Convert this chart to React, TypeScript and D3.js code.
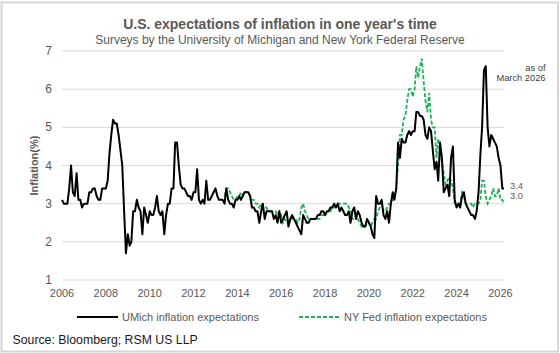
import React, { useEffect, useRef } from "react";
import * as d3 from "d3";

// monthly readings, UMich from Jan 2006, NY Fed from Jun 2013, both to Mar 2026
const umichStart = new Date(2006, 0, 1);
const umichValues: number[] = [
  // 2006
  3.1, 3.0, 3.0, 3.0, 3.4, 4.0, 3.3, 3.2, 3.8, 3.1, 3.1, 2.9,
  // 2007
  3.0, 3.0, 3.0, 3.3, 3.3, 3.4, 3.4, 3.2, 3.1, 3.1, 3.4, 3.4,
  // 2008
  3.4, 3.6, 4.3, 4.8, 5.2, 5.1, 5.1, 4.8, 4.4, 4.0, 2.8, 1.7,
  // 2009
  2.2, 1.9, 2.0, 2.8, 2.8, 3.1, 2.9, 2.8, 2.2, 2.9, 2.7, 2.5,
  // 2010
  2.8, 2.7, 2.7, 2.9, 3.2, 2.8, 2.7, 2.8, 2.2, 2.7, 3.0, 3.0,
  // 2011
  3.4, 3.4, 4.6, 4.6, 4.0, 3.5, 3.4, 3.4, 3.3, 3.2, 3.2, 3.1,
  // 2012
  3.3, 3.3, 3.9, 3.1, 3.0, 3.1, 3.0, 3.6, 3.1, 3.1, 3.2, 3.3,
  // 2013
  3.4, 3.2, 3.1, 3.1, 3.1, 3.0, 3.4, 3.1, 3.0, 3.0, 2.9, 3.1,
  // 2014
  3.1, 3.2, 3.1, 3.2, 3.3, 3.3, 3.3, 3.2, 2.9, 2.9, 2.8, 2.8,
  // 2015
  2.5, 2.8, 3.0, 2.6, 2.8, 2.8, 2.8, 2.8, 2.6, 2.7, 2.5, 2.8,
  // 2016
  2.5, 2.6, 2.7, 2.8, 2.4, 2.6, 2.7, 2.6, 2.5, 2.4, 2.3, 2.2,
  // 2017
  2.7, 2.6, 2.5, 2.5, 2.6, 2.6, 2.6, 2.6, 2.7, 2.7, 2.8, 2.8,
  // 2018
  2.7, 2.8, 2.8, 2.9, 2.9, 3.0, 2.9, 3.0, 2.8, 2.9, 2.8, 2.7,
  // 2019
  2.7, 2.8, 2.5, 2.8, 2.9, 2.6, 2.8, 2.7, 2.5, 2.4, 2.4, 2.6,
  // 2020
  2.5, 2.4, 2.2, 2.1, 3.2, 3.0, 3.0, 3.1, 2.7, 2.6, 2.8, 2.5,
  // 2021
  3.0, 3.3, 3.1, 3.4, 4.6, 4.2, 4.7, 4.6, 4.6, 4.8, 4.9, 4.8,
  // 2022
  4.9, 4.9, 5.4, 5.4, 5.3, 5.3, 5.2, 4.8, 4.7, 5.0, 4.9, 4.4,
  // 2023
  3.9, 4.1, 3.6, 4.6, 4.2, 3.3, 3.4, 3.5, 3.2, 4.2, 4.5, 3.1,
  // 2024
  2.9, 3.0, 2.9, 3.2, 3.3, 3.0, 2.9, 2.8, 2.7, 2.7, 2.6, 2.8,
  // 2025
  3.3, 4.3, 5.0, 6.5, 6.6, 5.0, 4.5, 4.8, 4.7, 4.6, 4.5, 4.2,
  // 2026
  4.0, 3.4, 3.4,
];

const nyfedStart = new Date(2013, 5, 1);
const nyfedValues: number[] = [
  // 2013 (Jun-Dec)
  3.2, 3.4, 3.4, 3.3, 3.2, 3.1, 3.1,
  // 2014
  3.2, 3.2, 3.3, 3.2, 3.3, 3.3, 3.3, 3.2, 3.1, 3.1, 3.0, 3.0,
  // 2015
  2.9, 3.0, 2.9, 2.9, 2.9, 2.8, 2.8, 2.8, 2.8, 2.8, 2.7, 2.8,
  // 2016
  2.7, 2.5, 2.6, 2.5, 2.5, 2.6, 2.6, 2.6, 2.6, 2.5, 2.6, 2.9,
  // 2017
  3.0, 2.8, 2.7, 2.6, 2.6, 2.6, 2.6, 2.6, 2.6, 2.6, 2.7, 2.7,
  // 2018
  2.7, 2.8, 2.8, 2.8, 2.9, 2.9, 3.0, 3.0, 3.0, 3.0, 3.0, 3.0,
  // 2019
  3.0, 2.9, 2.8, 2.6, 2.6, 2.7, 2.6, 2.5, 2.4, 2.4, 2.4, 2.5,
  // 2020
  2.5, 2.4, 2.5, 2.6, 2.6, 2.8, 2.9, 3.0, 2.8, 2.8, 2.9, 3.0,
  // 2021
  3.0, 3.1, 3.2, 3.4, 4.0, 4.8, 4.8, 5.2, 5.3, 5.7, 6.0, 6.0,
  // 2022
  5.8, 6.0, 6.6, 6.3, 6.6, 6.8, 6.2, 5.7, 5.4, 5.9, 5.2, 5.0,
  // 2023
  5.0, 4.2, 4.7, 4.4, 4.1, 3.8, 3.5, 3.6, 3.7, 3.6, 3.4, 3.0,
  // 2024
  3.0, 3.0, 3.0, 3.3, 3.2, 3.0, 3.0, 3.0, 3.0, 2.9, 3.0, 3.0,
  // 2025
  3.0, 3.1, 3.6, 3.6, 3.2, 3.0, 3.1, 3.2, 3.4, 3.2, 3.2, 3.4,
  // 2026
  3.1, 3.1, 3.0,
];

const yTicks = [1, 2, 3, 4, 5, 6, 7];
const xTickYears = [2006, 2008, 2010, 2012, 2014, 2016, 2018, 2020, 2022, 2024, 2026];
const seriesNames = ["UMich inflation expectations", "NY Fed inflation expectations"];
const lastLabels = ["3.4", "3.0"];

const GREEN = "#1DB159";
const GREY = "#595959";
const FONT = "Arial, 'Liberation Sans', sans-serif";

function toSeries(start: Date, values: number[]) {
  return values.map((v, i) => ({ date: d3.timeMonth.offset(start, i), value: v }));
}

function createChart(el: SVGSVGElement) {
  const svg = d3.select(el);
  svg.selectAll("*").remove();

  const W = 560,
    H = 353;
  const margin = { top: 51, right: 56, bottom: 73, left: 62 };
  const width = W - margin.left - margin.right,
    height = H - margin.top - margin.bottom;

  svg.append("rect").attr("width", W).attr("height", H).attr("fill", "#fff");
  svg
    .append("rect")
    .attr("x", 1.5)
    .attr("y", 2.5)
    .attr("width", W - 3.5)
    .attr("height", H - 4)
    .attr("fill", "none")
    .attr("stroke", "#d6d6d6")
    .attr("stroke-width", 2);

  // titles
  svg
    .append("text")
    .attr("x", W / 2)
    .attr("y", 29)
    .attr("text-anchor", "middle")
    .attr("font-family", FONT)
    .attr("font-weight", "bold")
    .attr("font-size", 14)
    .attr("fill", GREY)
    .text("U.S. expectations of inflation in one year's time");
  svg
    .append("text")
    .attr("x", W / 2)
    .attr("y", 44)
    .attr("text-anchor", "middle")
    .attr("font-family", FONT)
    .attr("font-size", 12)
    .attr("fill", GREY)
    .text("Surveys by the University of Michigan and New York Federal Reserve");

  const g = svg.append("g").attr("transform", `translate(${margin.left},${margin.top})`);

  const umich = toSeries(umichStart, umichValues);
  const nyfed = toSeries(nyfedStart, nyfedValues);

  const x = d3
    .scaleTime()
    .domain([umichStart, umich[umich.length - 1].date])
    .range([0, width]);
  const y = d3.scaleLinear().domain([1, 7]).range([height, 0]);

  // gridlines
  g.selectAll(".grid")
    .data(yTicks)
    .enter()
    .append("line")
    .attr("x1", 0)
    .attr("x2", width)
    .attr("y1", (d) => y(d))
    .attr("y2", (d) => y(d))
    .attr("stroke", "#d9d9d9")
    .attr("stroke-width", 1);

  // y labels
  g.selectAll(".ylab")
    .data(yTicks)
    .enter()
    .append("text")
    .attr("x", -10)
    .attr("y", (d) => y(d) + 4)
    .attr("text-anchor", "end")
    .attr("font-family", FONT)
    .attr("font-size", 12)
    .attr("fill", GREY)
    .text((d) => d);

  g.append("text")
    .attr("transform", `translate(-24,${height / 2}) rotate(-90)`)
    .attr("text-anchor", "middle")
    .attr("font-family", FONT)
    .attr("font-weight", "bold")
    .attr("font-size", 11)
    .attr("fill", GREY)
    .text("Inflation(%)");

  // x labels
  g.selectAll(".xlab")
    .data(xTickYears)
    .enter()
    .append("text")
    .attr("x", (d) => x(new Date(d, 0, 1)))
    .attr("y", height + 17)
    .attr("text-anchor", "middle")
    .attr("font-family", FONT)
    .attr("font-size", 11)
    .attr("fill", GREY)
    .text((d) => d);

  const line = d3
    .line<{ date: Date; value: number }>()
    .x((d) => x(d.date))
    .y((d) => y(d.value));

  g.append("path")
    .datum(nyfed)
    .attr("d", line)
    .attr("fill", "none")
    .attr("stroke", GREEN)
    .attr("stroke-width", 1.8)
    .attr("stroke-dasharray", "4,2");

  g.append("path")
    .datum(umich)
    .attr("d", line)
    .attr("fill", "none")
    .attr("stroke", "#000")
    .attr("stroke-width", 2)
    .attr("stroke-linejoin", "round");

  // end labels
  const lastU = umichValues[umichValues.length - 1];
  const lastN = nyfedValues[nyfedValues.length - 1];
  g.append("text")
    .attr("x", width + 6)
    .attr("y", y(lastU) + 0.5)
    .attr("font-family", FONT)
    .attr("font-size", 9.3)
    .attr("fill", GREY)
    .text(lastLabels[0]);
  g.append("text")
    .attr("x", width + 6)
    .attr("y", y(lastN) - 4.5)
    .attr("font-family", FONT)
    .attr("font-size", 9.3)
    .attr("fill", GREY)
    .text(lastLabels[1]);

  svg
    .append("text")
    .attr("x", 545.5)
    .attr("y", 71)
    .attr("text-anchor", "end")
    .attr("font-family", FONT)
    .attr("font-size", 9.3)
    .attr("fill", "#404040")
    .text("as of");
  svg
    .append("text")
    .attr("x", 545.5)
    .attr("y", 81)
    .attr("text-anchor", "end")
    .attr("font-family", FONT)
    .attr("font-size", 9.3)
    .attr("fill", "#404040")
    .text("March 2026");

  // legend
  const legend = svg
    .append("g")
    .selectAll("g")
    .data(seriesNames)
    .enter()
    .append("g")
    .attr("transform", (d, i) => `translate(${i === 0 ? 77 : 299},317)`);
  legend
    .append("line")
    .attr("x1", 0)
    .attr("x2", 41)
    .attr("stroke", (d, i) => (i === 0 ? "#000" : GREEN))
    .attr("stroke-width", 1.8)
    .attr("stroke-dasharray", (d, i) => (i === 0 ? null : "4,2"));
  legend
    .append("text")
    .attr("x", 45)
    .attr("y", 4)
    .attr("font-family", FONT)
    .attr("font-size", 11)
    .attr("fill", GREY)
    .text((d) => d);

  svg
    .append("text")
    .attr("x", 12.5)
    .attr("y", 344)
    .attr("font-family", FONT)
    .attr("font-size", 12.3)
    .attr("fill", "#1a1a1a")
    .text("Source: Bloomberg; RSM US LLP");
}

export default function App() {
  const ref = useRef<SVGSVGElement>(null);
  useEffect(() => {
    if (ref.current) createChart(ref.current);
  }, []);
  return (
    <svg
      ref={ref}
      width={560}
      height={353}
      style={{ position: "absolute", left: 0, top: 0, display: "block" }}
    />
  );
}
